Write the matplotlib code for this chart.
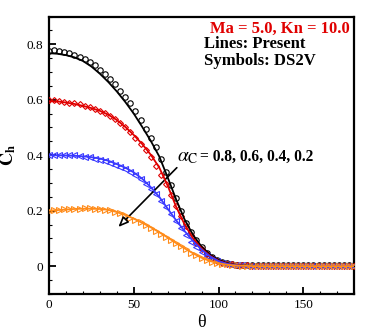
import numpy as np
import matplotlib
matplotlib.use("Agg")
import matplotlib.pyplot as plt
from matplotlib.ticker import MultipleLocator

plt.rcParams["font.family"] = ["Liberation Serif", "DejaVu Serif"]
plt.rcParams["mathtext.fontset"] = "stix"

# ---- present method (lines) ----
theta_line = [0, 5, 10, 15, 20, 25, 30, 35, 40, 45, 50, 55, 60, 65, 70, 75, 80, 85,
              90, 95, 100, 105, 110, 115, 120, 140, 160, 180]
ch_line_08 = [0.768, 0.766, 0.761, 0.753, 0.740, 0.720, 0.694, 0.664, 0.630, 0.592,
              0.550, 0.502, 0.452, 0.396, 0.320, 0.240, 0.168, 0.112, 0.070, 0.041,
              0.022, 0.011, 0.005, 0.002, 0.001, 0.0, 0.0, 0.0]
ch_line_06 = [0.595, 0.594, 0.590, 0.585, 0.578, 0.570, 0.560, 0.546, 0.527, 0.502,
              0.473, 0.440, 0.402, 0.356, 0.290, 0.214, 0.150, 0.100, 0.063, 0.037,
              0.019, 0.009, 0.004, 0.001, 0.0, 0.0, 0.0, 0.0]
ch_line_04 = [0.400, 0.400, 0.399, 0.398, 0.396, 0.393, 0.388, 0.380, 0.368, 0.355,
              0.338, 0.315, 0.285, 0.250, 0.207, 0.165, 0.126, 0.090, 0.059, 0.035,
              0.018, 0.008, 0.003, 0.001, 0.0, 0.0, 0.0, 0.0]
ch_line_02 = [0.200, 0.202, 0.204, 0.206, 0.207, 0.207, 0.206, 0.203, 0.195, 0.184,
              0.171, 0.156, 0.140, 0.122, 0.103, 0.083, 0.064, 0.046, 0.030, 0.018,
              0.010, 0.005, 0.002, 0.001, 0.0, 0.0, 0.0, 0.0]

# ---- DS2V (symbols) ----
theta_sym = [0, 3, 6, 9, 12, 15, 18, 21, 24, 27, 30, 33, 36, 39, 42, 45, 48, 51, 54, 57,
             60, 63, 66, 69, 72, 75, 78, 81, 84, 87, 90, 93, 96, 99, 102, 105, 108, 111,
             114, 117, 120, 123, 126, 129, 132, 135, 138, 141, 144, 147, 150, 153, 156,
             159, 162, 165, 168, 171, 174, 177, 180]
ch_sym_08 = [0.775, 0.778, 0.776, 0.772, 0.768, 0.763, 0.756, 0.748, 0.738, 0.724,
             0.708, 0.692, 0.675, 0.656, 0.633, 0.610, 0.588, 0.560, 0.528, 0.494,
             0.462, 0.428, 0.388, 0.340, 0.292, 0.244, 0.199, 0.157, 0.123, 0.094,
             0.068, 0.048, 0.032, 0.021, 0.014, 0.010, 0.007, 0.005, 0.004, 0.004,
             0.003, 0.003, 0.003, 0.003, 0.003, 0.003, 0.003, 0.003, 0.003, 0.003,
             0.003, 0.003, 0.003, 0.003, 0.003, 0.003, 0.003, 0.003, 0.003, 0.003, 0.003]
ch_sym_06 = [0.598, 0.598, 0.595, 0.592, 0.590, 0.587, 0.583, 0.578, 0.573, 0.567,
             0.560, 0.552, 0.542, 0.530, 0.516, 0.500, 0.483, 0.463, 0.442, 0.418,
             0.392, 0.362, 0.330, 0.295, 0.258, 0.218, 0.180, 0.144, 0.112, 0.084,
             0.060, 0.042, 0.028, 0.018, 0.012, 0.008, 0.006, 0.004, 0.003, 0.003,
             0.002, 0.002, 0.002, 0.002, 0.002, 0.002, 0.002, 0.002, 0.002, 0.002,
             0.002, 0.002, 0.002, 0.002, 0.002, 0.002, 0.002, 0.002, 0.002, 0.002, 0.002]
ch_sym_04 = [0.402, 0.402, 0.402, 0.401, 0.400, 0.399, 0.397, 0.395, 0.392, 0.388,
             0.384, 0.379, 0.373, 0.366, 0.358, 0.349, 0.339, 0.327, 0.313, 0.297,
             0.279, 0.259, 0.236, 0.212, 0.187, 0.161, 0.136, 0.111, 0.088, 0.068,
             0.050, 0.036, 0.025, 0.017, 0.011, 0.008, 0.005, 0.004, 0.003, 0.002,
             0.002, 0.002, 0.002, 0.002, 0.002, 0.002, 0.002, 0.002, 0.002, 0.002,
             0.002, 0.002, 0.002, 0.002, 0.002, 0.002, 0.002, 0.002, 0.002, 0.002, 0.002]
ch_sym_02 = [0.200, 0.203, 0.204, 0.205, 0.206, 0.207, 0.207, 0.208, 0.208, 0.207,
             0.206, 0.204, 0.201, 0.196, 0.190, 0.183, 0.175, 0.167, 0.158, 0.149,
             0.139, 0.128, 0.117, 0.106, 0.094, 0.082, 0.071, 0.060, 0.049, 0.039,
             0.030, 0.022, 0.016, 0.011, 0.008, 0.006, 0.004, 0.003, 0.002, 0.002,
             0.001, 0.001, 0.001, 0.001, 0.001, 0.001, 0.001, 0.001, 0.001, 0.001,
             0.001, 0.001, 0.001, 0.001, 0.001, 0.001, 0.001, 0.001, 0.001, 0.001, 0.001]

COL_08 = "black"
COL_06 = "#e00000"
COL_04 = "#3a3aff"
COL_02 = "#ff8c1a"

fig = plt.figure(figsize=(3.74, 3.32), dpi=100)
ax = fig.add_axes([0.131, 0.115, 0.816, 0.835])

series = [
    (ch_line_08, ch_sym_08, COL_08, "o", 3.9),
    (ch_line_06, ch_sym_06, COL_06, "D", 3.0),
    (ch_line_04, ch_sym_04, COL_04, "<", 3.9),
    (ch_line_02, ch_sym_02, COL_02, ">", 3.9),
]
for line_vals, sym_vals, col, mk, ms in series:
    ax.plot(theta_sym, sym_vals, linestyle="none", marker=mk, markersize=ms,
            markerfacecolor="none", markeredgecolor=col, markeredgewidth=0.8, zorder=3)
    ax.plot(theta_line, line_vals, color=col, linewidth=1.3, zorder=4)

ax.set_xlim(0, 180)
ax.set_ylim(-0.1, 0.9)
ax.xaxis.set_major_locator(MultipleLocator(50))
ax.xaxis.set_minor_locator(MultipleLocator(10))
ax.yaxis.set_minor_locator(MultipleLocator(0.05))
ax.set_yticks([0, 0.2, 0.4, 0.6, 0.8])
ax.set_yticklabels(["0", "0.2", "0.4", "0.6", "0.8"])
ax.tick_params(which="major", direction="in", length=5, width=1.3, labelsize=9.5, pad=4)
ax.tick_params(which="minor", direction="in", length=2.5, width=0.8)
for sp in ax.spines.values():
    sp.set_linewidth(1.6)

ax.set_xlabel("θ", fontsize=13, labelpad=2)
ax.set_ylabel(r"$\mathbf{C}_\mathbf{h}$", fontsize=13, labelpad=6)

ax.text(0.985, 0.955, "Ma = 5.0, Kn = 10.0", transform=ax.transAxes, ha="right", va="center",
        fontsize=12, fontweight="bold", color=COL_06)
ax.text(0.508, 0.9, "Lines: Present", transform=ax.transAxes, ha="left", va="center",
        fontsize=12, fontweight="bold")
ax.text(0.508, 0.84, "Symbols: DS2V", transform=ax.transAxes, ha="left", va="center",
        fontsize=12, fontweight="bold")

ax.annotate("", xy=(40.9, 0.141), xytext=(75.4, 0.355),
            arrowprops=dict(arrowstyle="-|>,head_length=0.6,head_width=0.25", color="black",
                            fc="white", lw=1.2, shrinkA=0, shrinkB=0))
ax.text(75.5, 0.393, r"$\alpha_{\rm C}$", fontsize=14, ha="left", va="center")
ax.text(89.0, 0.393, "= 0.8, 0.6, 0.4, 0.2", fontsize=11.2, fontweight="bold",
        ha="left", va="center")

fig.savefig("out.png", dpi=100)
